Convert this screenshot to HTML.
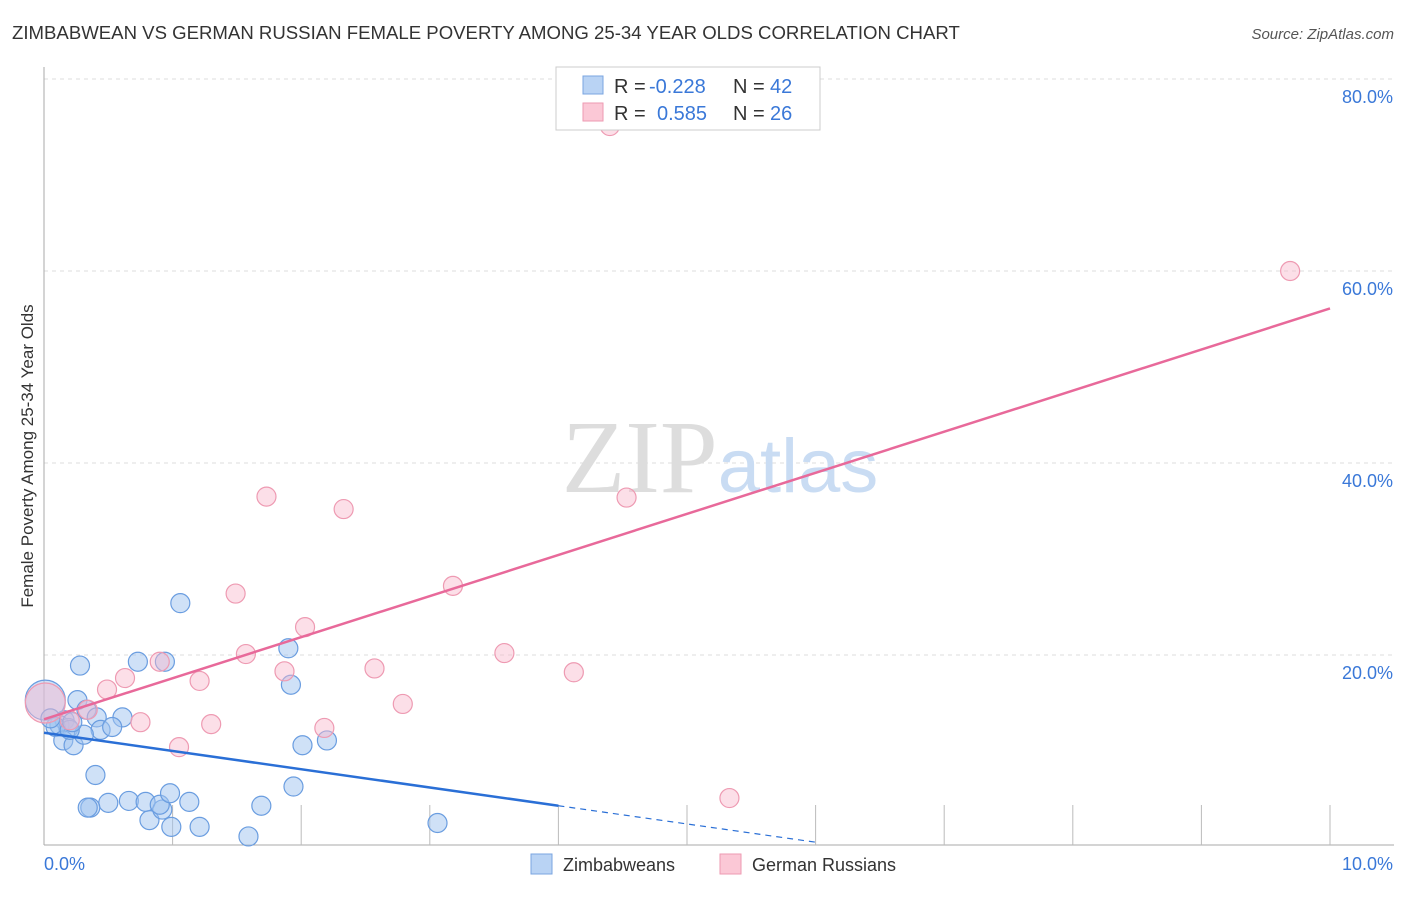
<!DOCTYPE html>
<html><head><meta charset="utf-8"><style>
body{margin:0;background:#fff;font-family:"Liberation Sans",sans-serif}
</style></head><body>
<svg width="1406" height="892" xmlns="http://www.w3.org/2000/svg" font-family="Liberation Sans, sans-serif">
<text x="12" y="39" font-size="18.6" fill="#333">ZIMBABWEAN VS GERMAN RUSSIAN FEMALE POVERTY AMONG 25-34 YEAR OLDS CORRELATION CHART</text>
<text x="1394" y="39" font-size="15" fill="#555" text-anchor="end" font-style="italic">Source: ZipAtlas.com</text>
<text x="33" y="456" font-size="17" fill="#333" text-anchor="middle" transform="rotate(-90 33 456)">Female Poverty Among 25-34 Year Olds</text>
<g id="grid"></g>
<text x="720" y="492" font-size="104" fill="#ddd" text-anchor="middle" font-family="Liberation Serif, serif">ZIP<tspan fill="#c9dcf3" font-family="Liberation Sans, sans-serif" font-size="76">atlas</tspan></text>
<g id="pts"></g>
<g id="lines"></g>
<g>
<rect x="556" y="67" width="264" height="63" fill="#fff" stroke="#ccc"/>
<rect x="583" y="76" width="20" height="18" fill="#b9d3f4" stroke="#7aa5e0"/>
<rect x="583" y="103" width="20" height="18" fill="#fbc8d6" stroke="#ee9ab2"/>
<text x="614" y="93" font-size="20" fill="#333">R =</text>
<text x="649" y="93" font-size="20" fill="#3a78d8">-0.228</text>
<text x="733" y="93" font-size="20" fill="#333">N =</text>
<text x="770" y="93" font-size="20" fill="#3a78d8">42</text>
<text x="614" y="120" font-size="20" fill="#333">R =</text>
<text x="657" y="120" font-size="20" fill="#3a78d8">0.585</text>
<text x="733" y="120" font-size="20" fill="#333">N =</text>
<text x="770" y="120" font-size="20" fill="#3a78d8">26</text>
</g>
<g>
<rect x="531" y="854" width="21" height="20" fill="#b9d3f4" stroke="#7aa5e0"/>
<text x="563" y="871" font-size="18" fill="#333">Zimbabweans</text>
<rect x="720" y="854" width="21" height="20" fill="#fbc8d6" stroke="#ee9ab2"/>
<text x="752" y="871" font-size="18" fill="#333">German Russians</text>
</g>
</svg>
<script>
const xTicks=[0,10];
const yTicks=[20,40,60,80];
const blueX=[.01,.28,.73,.94,1.06,1.90,1.92,.26,.33,.41,.61,.44,.16,.12,.19,.09,.15,.23,.31,.40,.50,.36,.34,.66,.82,.79,.92,.90,.98,1.13,.99,1.21,1.59,1.69,1.94,2.01,2.20,3.06,.05,.20,.53,.22];
const blueY=[15.3,18.9,19.3,19.3,25.4,20.7,16.9,15.3,14.3,13.5,13.5,12.2,13.2,12.7,12.4,12.5,11.1,10.6,11.7,7.5,4.6,4.1,4.1,4.8,2.8,4.7,3.9,4.4,5.6,4.7,2.1,2.1,1.1,4.3,6.3,10.6,11.1,2.5,13.4,12.2,12.5,13.0];
const pinkX=[4.40,9.69,1.73,2.33,4.53,3.18,1.49,2.03,1.57,3.58,1.87,2.57,4.12,1.21,.63,.49,2.79,.34,.20,.75,1.30,2.18,1.05,5.33,.01,.90];
const pinkY=[75.1,60.0,36.5,35.2,36.4,27.2,26.4,22.9,20.1,20.2,18.3,18.6,18.2,17.3,17.6,16.4,14.9,14.3,13.2,13.0,12.8,12.4,10.4,5.1,15.0,19.3];
const blueTrend=[11.9,-1.9];
const pinkTrend=[13.3,4.28];
const sx=v=>44+v*128.6, sy=v=>847-v*9.6;
const NS='http://www.w3.org/2000/svg';
function mk(t,a,p){const e=document.createElementNS(NS,t);for(const k in a)e.setAttribute(k,a[k]);p.appendChild(e);return e;}
const g=document.getElementById('grid');
yTicks.forEach(t=>{
const l=mk('line',{x1:44,x2:1394,y1:sy(t),y2:sy(t),stroke:'#ddd','stroke-dasharray':'4 4'},g);


const tx=mk('text',{x:1393,y:sy(t)+24,'font-size':18,fill:'#3a78d8','text-anchor':'end'},g);
tx.textContent=t.toFixed(1)+'%';


});
const ax=mk('line',{x1:44,x2:1394,y1:845,y2:845,stroke:'#aaa'},g);


const ay=mk('line',{x1:44,x2:44,y1:67,y2:845,stroke:'#aaa'},g);


for(let i=1;i<=10;i++){const tk=mk('line',{x1:sx(i),x2:sx(i),y1:805,y2:845,stroke:'#bbb'},g);

}
xTicks.forEach((t,i)=>{const tx=mk('text',{x:i?1393:44,y:870,'font-size':18,fill:'#3a78d8','text-anchor':i?'end':'start'},g);
tx.textContent=t.toFixed(1)+'%';

});
const P=document.getElementById('pts');
blueX.forEach((x,i)=>{const c=mk('circle',{cx:sx(x),cy:sy(blueY[i]),r:i==0?20:9.5,fill:'rgba(160,195,240,0.5)',stroke:'#6a9de0','stroke-width':1.2},P);

});
pinkX.forEach((x,i)=>{const c=mk('circle',{cx:sx(x),cy:sy(pinkY[i]),r:i==24?20:9.5,fill:'rgba(248,185,205,0.45)',stroke:'#ee9ab2','stroke-width':1.2},P);

});
const L=document.getElementById('lines');
const b=x=>blueTrend[0]+blueTrend[1]*x, p=x=>pinkTrend[0]+pinkTrend[1]*x;
const l1=mk('line',{x1:sx(0),y1:sy(b(0)),x2:sx(4),y2:sy(b(4)),stroke:'#2a6fd6','stroke-width':2.5},L);


const l2=mk('line',{x1:sx(4),y1:sy(b(4)),x2:sx(6),y2:sy(b(6)),stroke:'#2a6fd6','stroke-width':1.2,'stroke-dasharray':'6 5'},L);


const l3=mk('line',{x1:sx(0),y1:sy(p(0)),x2:sx(10),y2:sy(p(10)),stroke:'#e8699a','stroke-width':2.5},L);


</script>
</body></html>
